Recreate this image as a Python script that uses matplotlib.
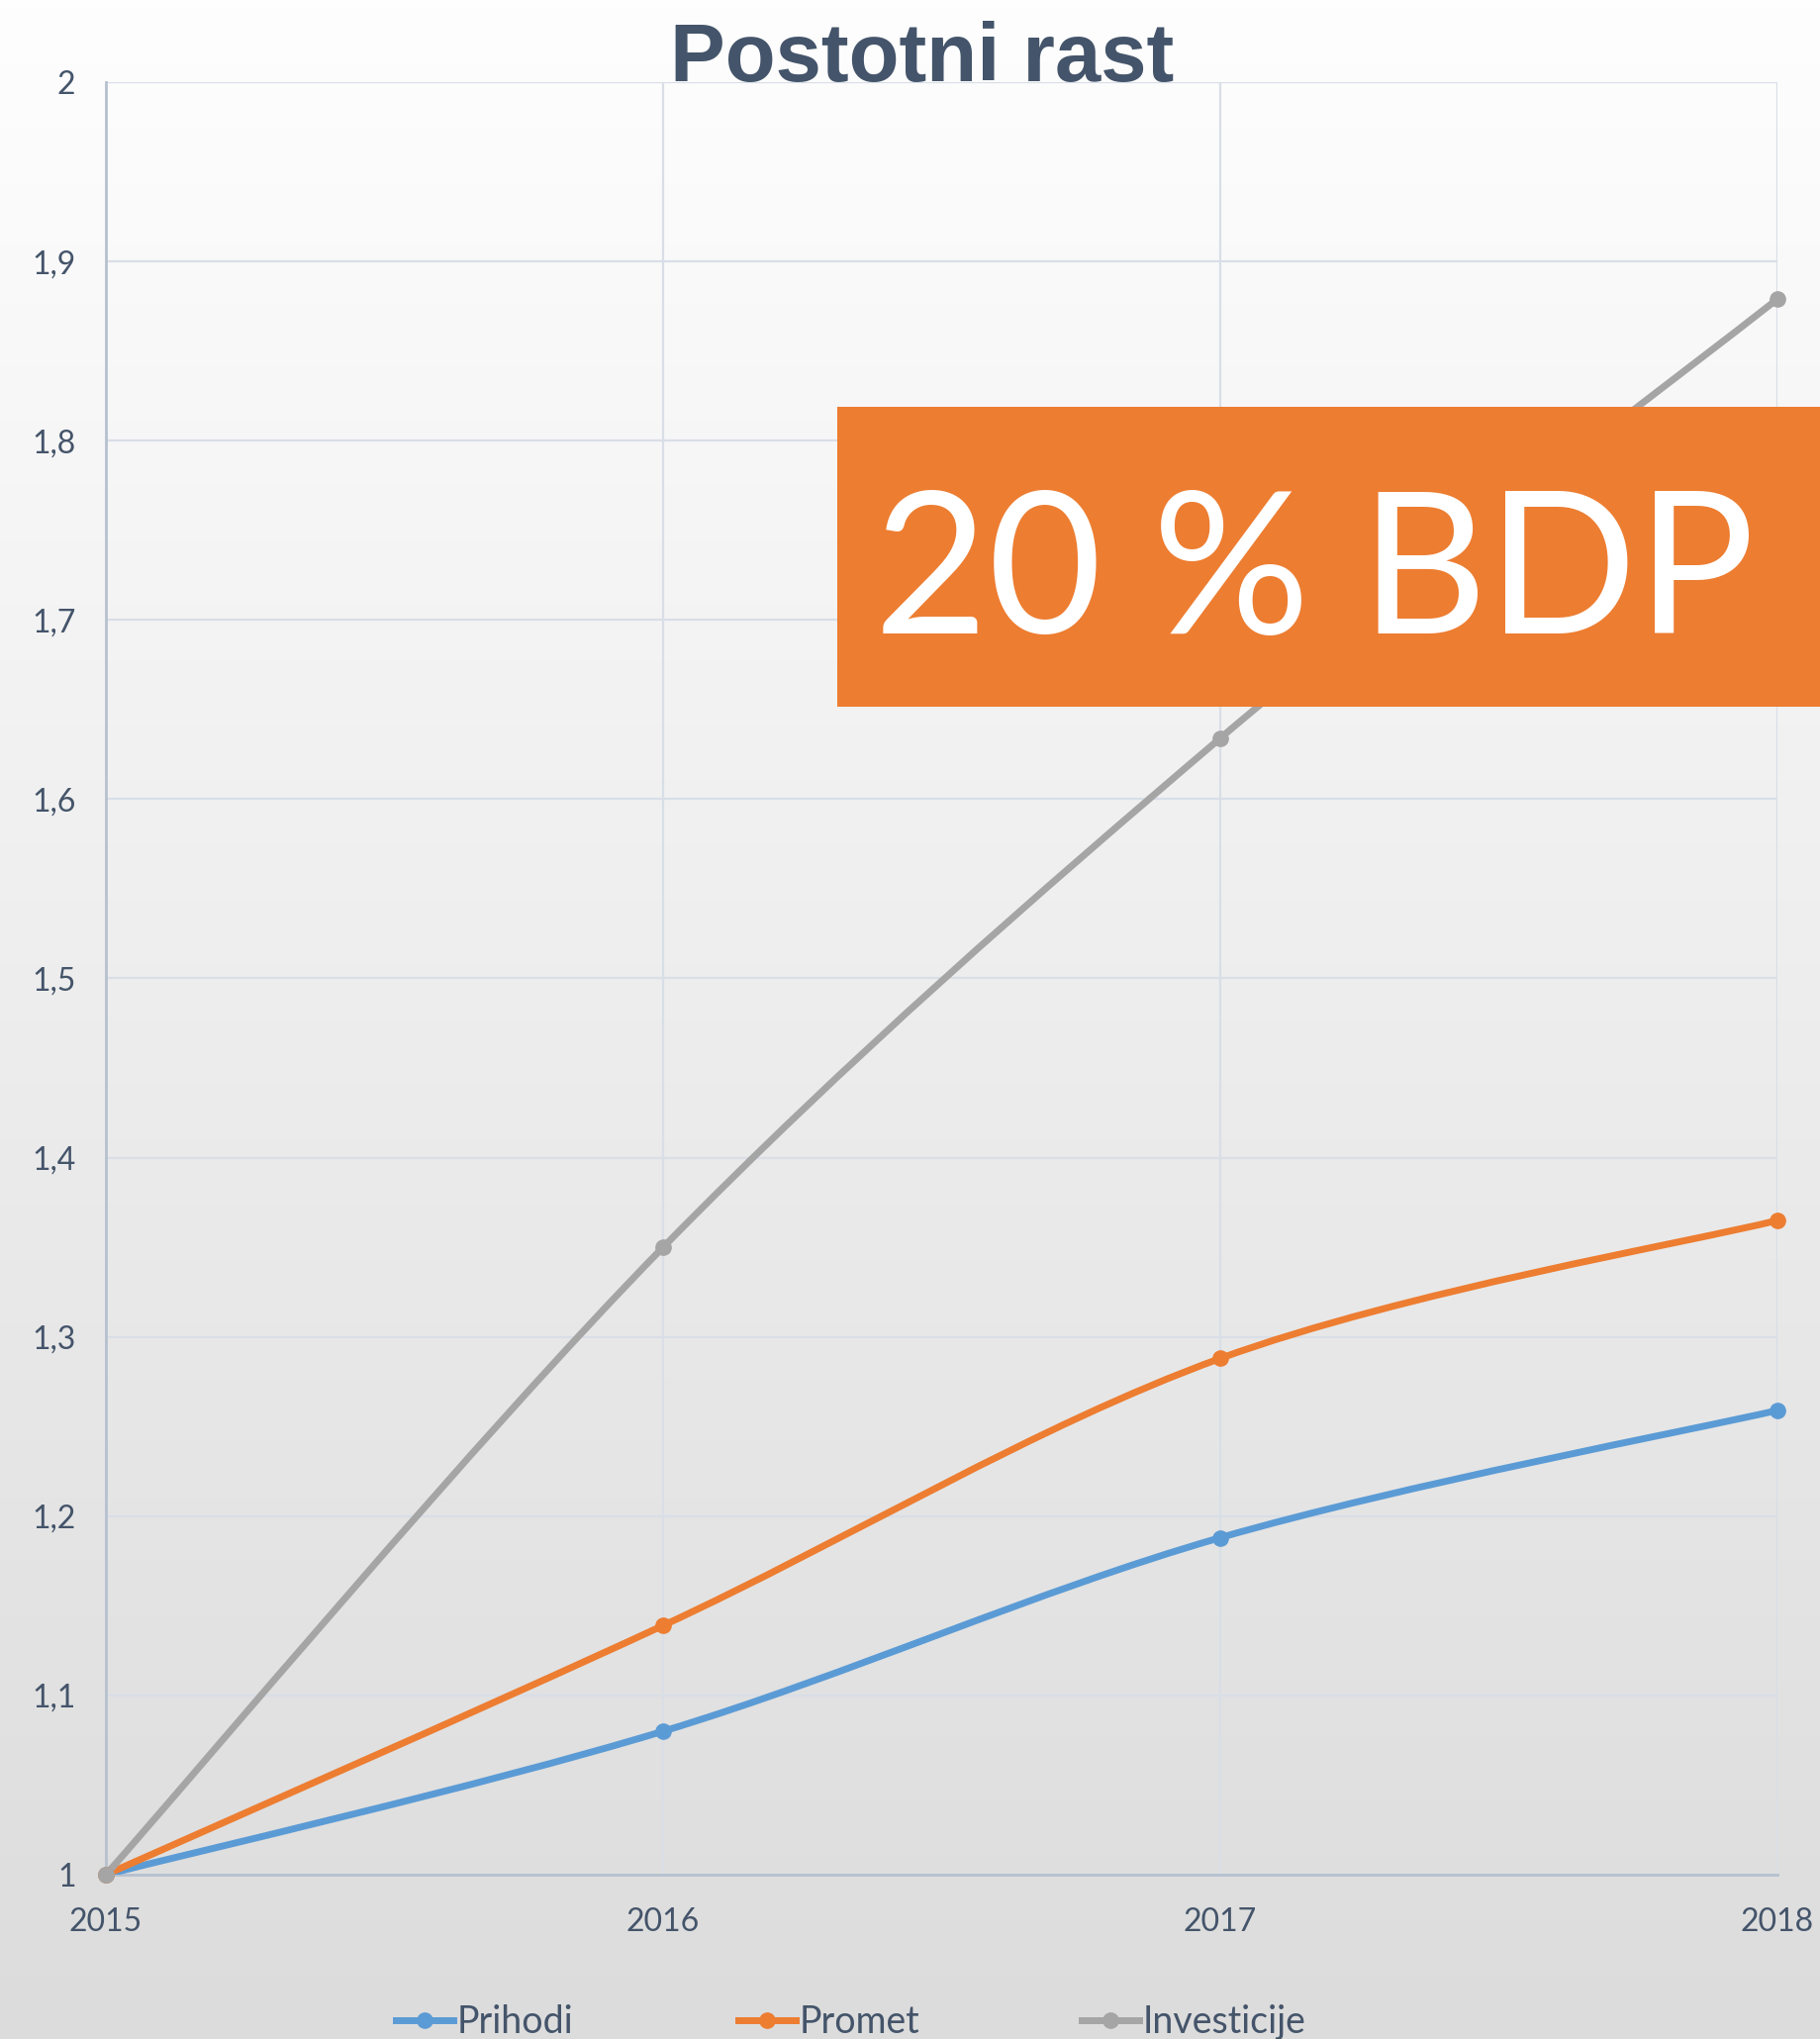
import numpy as np
import matplotlib
matplotlib.use('Agg')
import matplotlib.pyplot as plt
from matplotlib.path import Path
from matplotlib.patches import PathPatch, Rectangle
from matplotlib.lines import Line2D

years = [2015, 2016, 2017, 2018]
prihodi = [1.0, 1.08, 1.188, 1.259]
promet = [1.0, 1.139, 1.288, 1.365]
investicije = [1.0, 1.350, 1.634, 1.879]

series_names = ['Prihodi', 'Promet', 'Investicije']
series_colors = ['#5b9bd5', '#ed7d31', '#a5a5a5']
y_ticks = [1.0, 1.1, 1.2, 1.3, 1.4, 1.5, 1.6, 1.7, 1.8, 1.9, 2.0]

title_text = 'Postotni rast'
banner_text = '20 % BDP'

text_color = '#44546a'
grid_color = '#d9dee7'
axis_color = '#b6c0cf'
body_font = ['Lato', 'DejaVu Sans']


def smooth_path(xs, ys):
    # Excel-style smoothed line: cubic bezier, catmull-rom tangents
    pts = np.column_stack([xs, ys]).astype(float)
    ext = np.vstack([pts[0], pts, pts[-1]])
    verts = [tuple(pts[0])]
    codes = [Path.MOVETO]
    for i in range(1, len(ext) - 2):
        p0, p1, p2, p3 = ext[i - 1], ext[i], ext[i + 1], ext[i + 2]
        c1 = p1 + (p2 - p0) / 6.0
        c2 = p2 - (p3 - p1) / 6.0
        verts += [tuple(c1), tuple(c2), tuple(p2)]
        codes += [Path.CURVE4] * 3
    return Path(verts, codes)


fig = plt.figure(figsize=(18.39, 20.6), dpi=100)

# background gradient
bg = fig.add_axes([0, 0, 1, 1], zorder=-10)
grad = np.linspace(254, 220, 256)[:, None] / 255.0
bg.imshow(np.dstack([grad, grad, grad]), aspect='auto', extent=[0, 1, 0, 1])
bg.set_axis_off()

ax = fig.add_axes([0.0582, 0.0806, 0.9184, 0.8791])
ax.patch.set_alpha(0)
ax.set_xlim(2015, 2018)
ax.set_ylim(1, 2)

ax.set_yticks(y_ticks)
ax.set_yticklabels([('%g' % v).replace('.', ',') for v in y_ticks])
ax.set_xticks(years)
ax.set_xticklabels([str(y) for y in years])
ax.tick_params(length=0, labelsize=23, labelcolor=text_color)
ax.tick_params(axis='y', pad=22)
ax.tick_params(axis='x', pad=24)
for lbl in ax.get_xticklabels() + ax.get_yticklabels():
    lbl.set_family(body_font)

ax.grid(True, color=grid_color, linewidth=1.6)
ax.set_axisbelow(True)
for side in ['top', 'right']:
    ax.spines[side].set_visible(False)
for side in ['left', 'bottom']:
    ax.spines[side].set_color(axis_color)
    ax.spines[side].set_linewidth(2.0)

all_series = [prihodi, promet, investicije]
for name, vals, col in zip(series_names, all_series, series_colors):
    patch = PathPatch(smooth_path(years, vals), fill=False, edgecolor=col,
                      linewidth=5, capstyle='round', zorder=3)
    ax.add_patch(patch)
    ax.plot(years, vals, linestyle='none', marker='o', markersize=11,
            color=col, clip_on=False, zorder=4)

fig.text(0.5068, 0.9602, title_text, ha='center', va='baseline',
         fontsize=60, fontweight='bold', color=text_color,
         family=['Liberation Sans', 'DejaVu Sans'], zorder=1)

# orange banner
fig.add_artist(Rectangle((846 / 1839, 1 - 714 / 2060), 993 / 1839, 303 / 2060,
                         transform=fig.transFigure, facecolor='#ed7d31',
                         edgecolor='none', zorder=20))
fig.text(883 / 1839, 1 - 640 / 2060, banner_text, ha='left', va='baseline',
         fontsize=143, color='white', family=body_font, zorder=21)

# legend entries, evenly spaced like the original
legend_x = [400, 746, 1093]
for name, col, x0 in zip(series_names, series_colors, legend_x):
    h = Line2D([], [], color=col, linewidth=5, marker='o', markersize=11)
    leg = fig.legend([h], [name], loc='center left',
                     bbox_to_anchor=(x0 / 1839, 0.0083), frameon=False,
                     labelcolor=text_color, handlelength=1.55,
                     handletextpad=0.1, borderpad=0, borderaxespad=0,
                     prop={'family': body_font, 'size': 27})

fig.savefig('out.png', dpi=100)
